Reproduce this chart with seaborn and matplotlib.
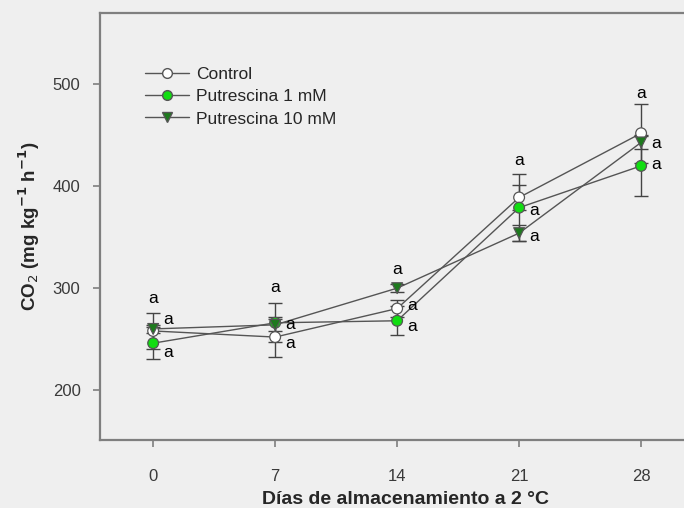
import matplotlib
matplotlib.use("Agg")
import matplotlib.pyplot as plt
from matplotlib.lines import Line2D
import seaborn as sns
import pandas as pd

# datos
dias = [0, 7, 14, 21, 28]
tratamientos = ["Control", "Putrescina 1 mM", "Putrescina 10 mM"]
control = [258, 252, 280, 389, 452]
control_err = [18, 20, 8, 12, 29]
put1 = [246, 266, 268, 379, 420]
put1_err = [16, 19, 14, 33, 30]
put10 = [260, 264, 300, 354, 443]
put10_err = [4, 6, 4, 8, 6]
letras = ["a", "a", "a"]

# posiciones (valor y) de las letras: arriba, derecha-alta, derecha-baja
letras_y = [(290, 269, 237), (301, 264, 246), (318, 283, 262),
            (425, 376, 351), (491, 442, 421)]

df = pd.DataFrame({
    "dia": dias * 3,
    "co2": control + put1 + put10,
    "err": control_err + put1_err + put10_err,
    "trat": [t for t in tratamientos for _ in dias],
})

sns.set_theme(style="white")
plt.rcParams["font.family"] = ["Liberation Sans", "DejaVu Sans"]

bg = "#efefef"
fig = plt.figure(figsize=(6.84, 5.08), dpi=100, facecolor=bg)
ax = fig.add_axes([100 / 684, 68 / 508, 0.893, 427 / 508], facecolor=bg)

line_col = "#555555"
caras = {"Control": "white", "Putrescina 1 mM": "#11dd11", "Putrescina 10 mM": "#1d7a1d"}
marcas = {"Control": "o", "Putrescina 1 mM": "o", "Putrescina 10 mM": "v"}

sns.lineplot(data=df, x="dia", y="co2", hue="trat",
             palette={t: line_col for t in tratamientos},
             lw=1.0, legend=False, ax=ax, zorder=2)

for t in tratamientos:
    sub = df[df["trat"] == t]
    ax.errorbar(sub["dia"], sub["co2"], yerr=sub["err"], fmt="none",
                ecolor="#444444", elinewidth=1.0, capsize=5, capthick=1.0, zorder=3)

sns.scatterplot(data=df, x="dia", y="co2", hue="trat", style="trat",
                palette=caras, markers=marcas, s=60, edgecolor="#555555",
                linewidth=0.9, legend=False, ax=ax, zorder=4)

for d, (y1, y2, y3) in zip(dias, letras_y):
    ax.text(d, y1, letras[0], ha="center", va="center", fontsize=12.5, color="black")
    ax.text(d + 0.85, y2, letras[1], ha="center", va="center", fontsize=12.5, color="black")
    ax.text(d + 0.85, y3, letras[2], ha="center", va="center", fontsize=12.5, color="black")

ax.set_xlim(-3.05, 32)
ax.set_ylim(151, 570)
ax.set_xticks(dias)
ax.set_yticks([200, 300, 400, 500])

for s in ["left", "bottom", "top", "right"]:
    ax.spines[s].set_color("#7f7f7f")
    ax.spines[s].set_linewidth(1.6)

ax.tick_params(axis="x", direction="out", length=5, width=1.2, color="#7f7f7f",
               pad=16, labelsize=12, labelcolor="#3a3a3a", bottom=True)
ax.tick_params(axis="y", direction="out", length=5, width=1.2, color="#7f7f7f",
               pad=9, labelsize=12, labelcolor="#3a3a3a", left=True)

ax.set_xlabel("Días de almacenamiento a 2 °C", fontsize=14, fontweight="bold", labelpad=5)
ax.set_ylabel("CO$_2$ (mg kg$^{\\mathbf{-1}}$ h$^{\\mathbf{-1}}$)", fontsize=13.5,
              fontweight="bold", labelpad=8)

handles = [Line2D([], [], color=line_col, lw=1.0, marker=marcas[t],
                  markerfacecolor=caras[t], markeredgecolor="#555555",
                  markersize=7) for t in tratamientos]
ax.legend(handles, tratamientos, loc="upper left", bbox_to_anchor=(0.06, 0.895),
          frameon=False, fontsize=12.5, handlelength=2.5, handletextpad=0.4,
          labelspacing=0.42, borderpad=0)

fig.savefig("out.png", dpi=100, facecolor=bg)
